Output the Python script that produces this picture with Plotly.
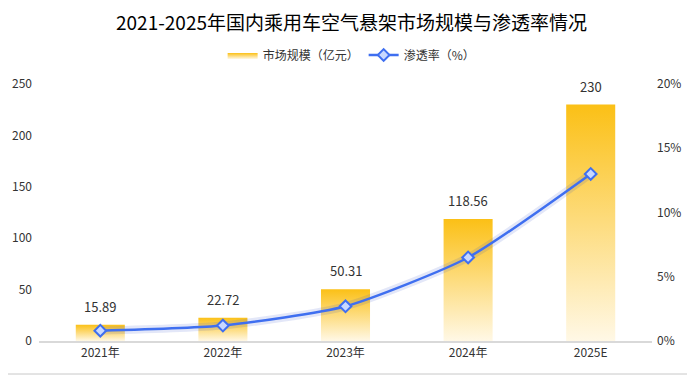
import plotly.graph_objects as go

categories = ["2021年", "2022年", "2023年", "2024年", "2025E"]
market_size = [15.89, 22.72, 50.31, 118.56, 230]
penetration = [0.008, 0.012, 0.027, 0.065, 0.130]
bar_labels = ["15.89", "22.72", "50.31", "118.56", "230"]

FONT = "Microsoft YaHei, Noto Sans CJK SC, sans-serif"
BAR_HALF = 0.2

# figure geometry (page has an 8px body margin)
W, H = 687, 376
L, T, PW, PH = 31, 76, 613, 257
R, B = W - L - PW, H - T - PH

fig = go.Figure()

for i, v in enumerate(market_size):
    fig.add_trace(go.Scatter(
        x=[i - BAR_HALF, i + BAR_HALF, i + BAR_HALF, i - BAR_HALF, i - BAR_HALF],
        y=[0, 0, v, v, 0],
        mode="lines", line=dict(width=0, color="rgba(0,0,0,0)"),
        fill="toself",
        fillgradient=dict(type="vertical",
                          colorscale=[[0, "rgb(255,248,230)"], [1, "rgb(251,192,22)"]]),
        name="市场规模（亿元）", legendgroup="bar", showlegend=(i == 0),
        hoverinfo="skip",
    ))

annotations = [
    dict(x=i, y=v, xref="x", yref="y", text=lbl, showarrow=False,
         yanchor="bottom", yshift=7,
         font=dict(size=13, color="#333", family=FONT))
    for i, (v, lbl) in enumerate(zip(market_size, bar_labels))
]

# soft shadow under the line
fig.add_trace(go.Scatter(
    x=list(range(len(categories))), y=penetration, yaxis="y2", mode="lines",
    line=dict(color="rgba(40,70,200,0.13)", width=8, shape="spline", smoothing=0.6),
    showlegend=False, hoverinfo="skip",
))

fig.add_trace(go.Scatter(
    x=list(range(len(categories))), y=penetration, yaxis="y2",
    mode="lines+markers", name="渗透率（%）",
    line=dict(color="#3f6ff0", width=2.5, shape="spline", smoothing=0.6),
    marker=dict(symbol="diamond", size=9, color="#c8d8ff",
                line=dict(color="#3f6ff0", width=2)),
))

fig.update_layout(
    width=W, height=H,
    margin=dict(l=L, r=R, t=T, b=B, autoexpand=False),
    paper_bgcolor="white", plot_bgcolor="white",
    font=dict(family=FONT, size=12, color="#333"),
    title=dict(text="2021-2025年国内乘用车空气悬架市场规模与渗透率情况",
               x=0.5, xanchor="center", y=1 - 15 / H, yanchor="middle",
               yref="container",
               font=dict(size=19, color="#000", family=FONT)),
    legend=dict(orientation="h", x=0.51, xanchor="center",
                y=1 + (T - 47) / PH, yanchor="middle",
                font=dict(size=12, color="#333", family=FONT),
                itemwidth=30, bgcolor="rgba(0,0,0,0)"),
    xaxis=dict(range=[-0.5, 4.5], tickvals=list(range(len(categories))),
               ticktext=categories, showgrid=False, zeroline=False,
               showline=True, linecolor="#d9d9d9", linewidth=1.5,
               ticks="", tickfont=dict(size=12, color="#333")),
    yaxis=dict(range=[0, 250], dtick=50, showgrid=False, zeroline=False,
               showline=False, ticks="", ticklabelstandoff=6,
               tickfont=dict(size=12, color="#333")),
    yaxis2=dict(range=[0, 0.2], dtick=0.05, tickformat=".0%", overlaying="y",
                side="right", showgrid=False, zeroline=False, showline=False,
                ticks="", ticklabelstandoff=4,
                tickfont=dict(size=12, color="#333")),
    hovermode=False,
    annotations=annotations,
    shapes=[
        dict(type="line", xref="paper", yref="paper",
             x0=-L / PW, x1=(686 - L) / PW,
             y0=-(366 - (T + PH)) / PH, y1=-(366 - (T + PH)) / PH,
             line=dict(color="#c8c8c8", width=1)),
        dict(type="line", xref="paper", yref="paper",
             x0=(686 - L) / PW, x1=(686 - L) / PW,
             y0=-(366 - (T + PH)) / PH, y1=1 + T / PH,
             line=dict(color="#c8c8c8", width=1)),
    ],
)

fig.write_html("out.html")
